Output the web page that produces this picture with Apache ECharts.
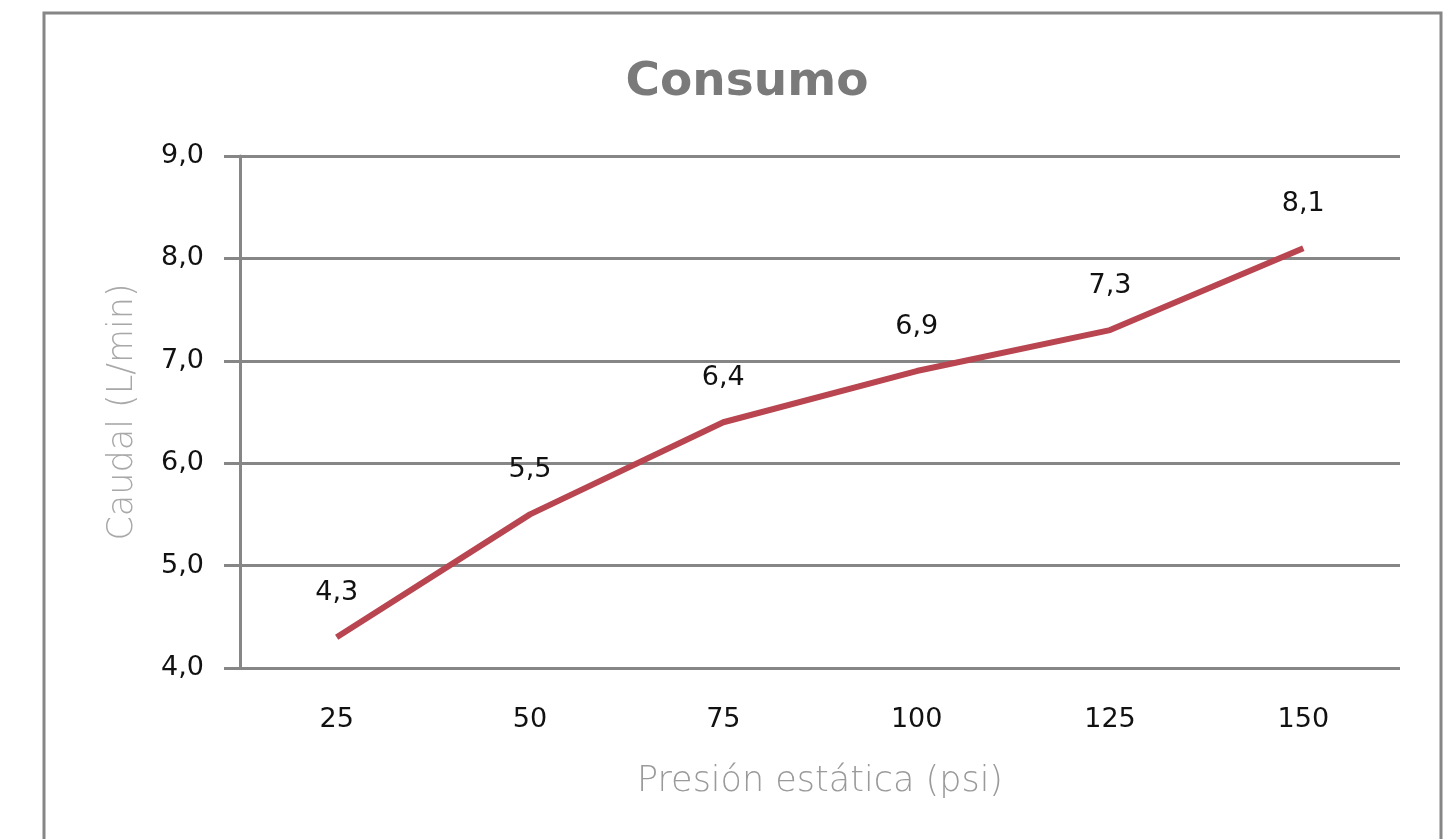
<!DOCTYPE html>
<html>
<head>
<meta charset="utf-8">
<script src="https://cdn.jsdelivr.net/npm/echarts@6/dist/echarts.min.js"></script>
<style>
  html, body { margin: 0; padding: 0; background: #fff; }
  #chart { width: 1456px; height: 839px; }
</style>
</head>
<body>
<div id="chart"></div>
<script>
// presión estática (psi)
const categories = ['25', '50', '75', '100', '125', '150'];
// caudal (L/min)
const caudal = [4.3, 5.5, 6.4, 6.9, 7.3, 8.1];
const yTicks = { min: 4, max: 9, step: 1 };

const comma = v => String(v).replace('.', ',');
const fmt1 = v => v.toFixed(1).replace('.', ',');

const chart = echarts.init(document.getElementById('chart'));
chart.setOption({
  animation: false,
  backgroundColor: '#fff',
  graphic: [{
    type: 'rect',
    shape: { x: 44, y: 13, width: 1397, height: 840 },
    style: { fill: 'none', stroke: '#868686', lineWidth: 3 },
    silent: true
  }],
  title: {
    text: 'Consumo',
    left: 742,
    textAlign: 'center',
    top: 54,
    textStyle: { fontFamily: 'DejaVu Sans', fontSize: 47, fontWeight: 'bold', color: '#7a7a7a' }
  },
  grid: { left: 240, right: 56, top: 156, bottom: 171 },
  xAxis: {
    type: 'category',
    data: categories,
    boundaryGap: true,
    name: 'Presión estática (psi)',
    nameLocation: 'middle',
    nameGap: 96,
    nameTextStyle: { fontFamily: 'DejaVu Sans', fontWeight: 200, fontSize: 35, color: '#9a9a9a' },
    axisLine: { show: false },
    axisTick: { show: false },
    axisLabel: { margin: 38, fontFamily: 'DejaVu Sans', fontSize: 27, color: '#111' }
  },
  yAxis: {
    type: 'value',
    min: yTicks.min,
    max: yTicks.max,
    interval: yTicks.step,
    name: 'Caudal (L/min)',
    nameLocation: 'middle',
    nameGap: 100,
    nameTextStyle: { fontFamily: 'DejaVu Sans', fontWeight: 200, fontSize: 35, color: '#a8a8a8' },
    axisLine: { show: true, lineStyle: { color: '#868686', width: 3 } },
    axisTick: { show: true, length: 16, lineStyle: { color: '#868686', width: 3 } },
    axisLabel: { margin: 36, fontFamily: 'DejaVu Sans', fontSize: 27, color: '#111', formatter: fmt1 },
    splitLine: { show: true, lineStyle: { color: '#868686', width: 3 } }
  },
  series: [{
    type: 'line',
    data: caudal,
    symbol: 'circle',
    symbolSize: 1,
    showSymbol: true,
    itemStyle: { color: 'rgba(0,0,0,0)' },
    lineStyle: { color: '#b8454f', width: 6 },
    label: {
      show: true,
      position: 'top',
      distance: 30,
      fontFamily: 'DejaVu Sans',
      fontSize: 27,
      color: '#111',
      formatter: p => comma(p.value)
    }
  }]
});
</script>
</body>
</html>
